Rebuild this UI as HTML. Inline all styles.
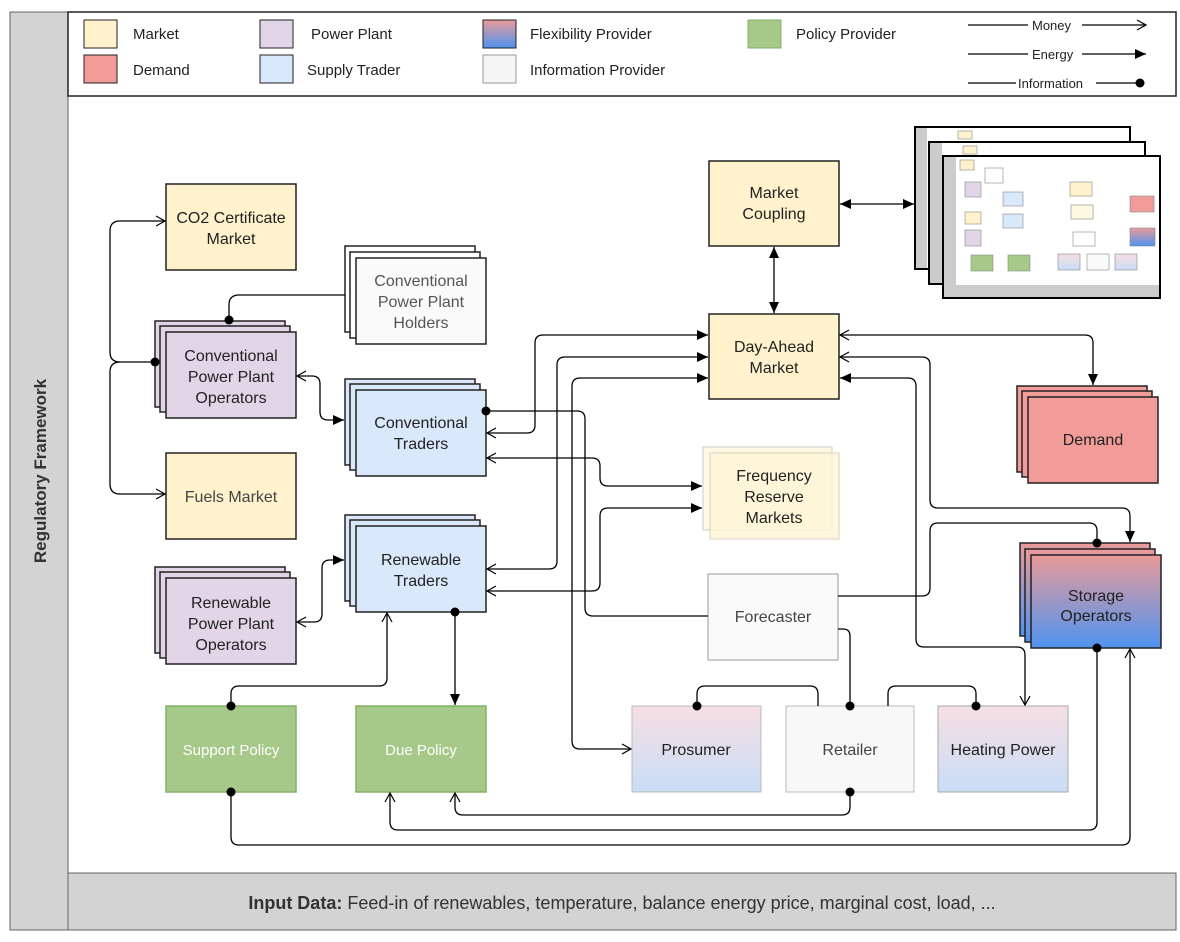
<!DOCTYPE html>
<html><head><meta charset="utf-8"><style>
body{margin:0;background:#fff}
svg{display:block;font-family:"Liberation Sans",sans-serif}
</style></head><body>
<svg width="1180" height="942" viewBox="0 0 1180 942" xmlns="http://www.w3.org/2000/svg">
<defs>
<marker id="o" markerWidth="12" markerHeight="12" refX="10" refY="6" orient="auto-start-reverse" markerUnits="userSpaceOnUse"><path d="M1,1 L10,6 L1,11" fill="none" stroke="#000" stroke-width="1.2"/></marker>
<marker id="f" markerWidth="12" markerHeight="12" refX="11" refY="6" orient="auto-start-reverse" markerUnits="userSpaceOnUse"><path d="M0,1 L11,6 L0,11 Z" fill="#000"/></marker>
<marker id="d" markerWidth="10" markerHeight="10" refX="5" refY="5" orient="auto" markerUnits="userSpaceOnUse"><circle cx="5" cy="5" r="4.5" fill="#000"/></marker>
<linearGradient id="flex" x1="0" y1="0" x2="0" y2="1"><stop offset="0" stop-color="#ea9a9a"/><stop offset="1" stop-color="#4f93f0"/></linearGradient>
<linearGradient id="soft" x1="0" y1="0" x2="0" y2="1"><stop offset="0" stop-color="#f6dfe3"/><stop offset="1" stop-color="#c9ddf7"/></linearGradient>
</defs>
<rect x="10" y="12" width="58" height="918" fill="#d3d3d3" stroke="#666"/>
<rect x="68" y="873" width="1108" height="57" fill="#d3d3d3" stroke="#666"/>
<rect x="68" y="12" width="1108" height="84" fill="#fff" stroke="#222" stroke-width="1.5"/>
<text transform="translate(46,471) rotate(-90)" text-anchor="middle" font-size="17" font-weight="bold" fill="#333">Regulatory Framework</text>
<text x="622" y="909" text-anchor="middle" font-size="18" fill="#333"><tspan font-weight="bold">Input Data:</tspan> Feed-in of renewables, temperature, balance energy price, marginal cost, load, ...</text>
<g font-size="15" fill="#222">
<rect x="84" y="20" width="33" height="28" fill="#fff2cc" stroke="#222"/><text x="133" y="39">Market</text>
<rect x="84" y="55" width="33" height="28" fill="#f19c99" stroke="#222"/><text x="133" y="75">Demand</text>
<rect x="260" y="20" width="33" height="28" fill="#e1d5e7" stroke="#222"/><text x="311" y="39">Power Plant</text>
<rect x="260" y="55" width="33" height="28" fill="#dae8fc" stroke="#222"/><text x="307" y="75">Supply Trader</text>
<rect x="483" y="20" width="33" height="28" fill="url(#flex)" stroke="#222"/><text x="530" y="39">Flexibility Provider</text>
<rect x="483" y="55" width="33" height="28" fill="#f5f5f5" stroke="#999"/><text x="530" y="75">Information Provider</text>
<rect x="748" y="20" width="33" height="28" fill="#a6c98a" stroke="#82b366"/><text x="796" y="39">Policy Provider</text>
</g>
<g font-size="13" fill="#222" stroke-width="1.2">
<line x1="968" y1="25" x2="1028" y2="25" stroke="#000"/><text x="1032" y="30">Money</text><line x1="1082" y1="25" x2="1146" y2="25" stroke="#000" marker-end="url(#o)"/>
<line x1="968" y1="54" x2="1028" y2="54" stroke="#000"/><text x="1032" y="59">Energy</text><line x1="1082" y1="54" x2="1146" y2="54" stroke="#000" marker-end="url(#f)"/>
<line x1="968" y1="83" x2="1016" y2="83" stroke="#000"/><text x="1018" y="88">Information</text><line x1="1096" y1="83" x2="1140" y2="83" stroke="#000" marker-end="url(#d)"/>
</g>
<g stroke="#000" stroke-width="2">
<rect x="915" y="127" width="215" height="142" fill="#fff"/><rect x="916" y="128" width="11" height="140" fill="#ccc" stroke="none"/>
<rect x="929" y="142" width="216" height="142" fill="#fff"/><rect x="930" y="143" width="12" height="140" fill="#ccc" stroke="none"/>
<rect x="943" y="156" width="217" height="142" fill="#fff"/><rect x="944" y="157" width="12" height="140" fill="#ccc" stroke="none"/>
<rect x="944" y="285" width="215" height="12" fill="#ccc" stroke="none"/>
</g>
<g stroke="#888" stroke-width="0.6">
<rect x="958" y="131" width="14" height="8" fill="#fff2cc"/><rect x="963" y="146" width="14" height="8" fill="#fff2cc"/>
<rect x="960" y="160" width="14" height="10" fill="#fff2cc"/><rect x="985" y="168" width="18" height="15" fill="#fff"/>
<rect x="965" y="182" width="16" height="15" fill="#e1d5e7"/><rect x="1003" y="192" width="20" height="14" fill="#dae8fc"/>
<rect x="965" y="212" width="16" height="12" fill="#fff2cc"/><rect x="1003" y="214" width="20" height="14" fill="#dae8fc"/>
<rect x="965" y="230" width="16" height="16" fill="#e1d5e7"/><rect x="1070" y="182" width="22" height="14" fill="#fff2cc"/>
<rect x="1071" y="205" width="22" height="14" fill="#fff8e0"/><rect x="1073" y="232" width="22" height="14" fill="#fff"/>
<rect x="1130" y="196" width="24" height="16" fill="#f19c99"/><rect x="1130" y="228" width="25" height="18" fill="url(#flex)"/>
<rect x="971" y="255" width="22" height="16" fill="#a6c98a"/><rect x="1008" y="255" width="22" height="16" fill="#a6c98a"/>
<rect x="1058" y="254" width="22" height="16" fill="url(#soft)"/><rect x="1087" y="254" width="22" height="16" fill="#fafafa"/><rect x="1115" y="254" width="22" height="16" fill="url(#soft)"/>
</g>
<g stroke="#222" stroke-width="1.5">
<rect x="166" y="184" width="130" height="86" fill="#fff2cc"/>
<rect x="345" y="246" width="130" height="86" fill="#fff"/><rect x="350" y="252" width="130" height="86" fill="#fff"/><rect x="356" y="258" width="130" height="86" fill="#fafafa"/>
<rect x="155" y="321" width="130" height="86" fill="#e1d5e7"/><rect x="160" y="326" width="130" height="86" fill="#e1d5e7"/><rect x="166" y="332" width="130" height="86" fill="#e1d5e7"/>
<rect x="345" y="379" width="130" height="86" fill="#dae8fc"/><rect x="350" y="384" width="130" height="86" fill="#dae8fc"/><rect x="356" y="390" width="130" height="86" fill="#dae8fc"/>
<rect x="166" y="453" width="130" height="86" fill="#fff2cc"/>
<rect x="345" y="515" width="130" height="86" fill="#dae8fc"/><rect x="350" y="520" width="130" height="86" fill="#dae8fc"/><rect x="356" y="526" width="130" height="86" fill="#dae8fc"/>
<rect x="155" y="567" width="130" height="86" fill="#e1d5e7"/><rect x="160" y="572" width="130" height="86" fill="#e1d5e7"/><rect x="166" y="578" width="130" height="86" fill="#e1d5e7"/>
<rect x="166" y="706" width="130" height="86" fill="#a6c98a" stroke="#82b366"/>
<rect x="356" y="706" width="130" height="86" fill="#a6c98a" stroke="#82b366"/>
<rect x="709" y="161" width="130" height="85" fill="#fff2cc"/>
<rect x="709" y="314" width="130" height="85" fill="#fff2cc"/>
<rect x="703" y="447" width="129" height="83" fill="#fff8e3" stroke="#ccc" stroke-width="1"/><rect x="710" y="453" width="129" height="86" fill="#fff5d6" fill-opacity="0.8" stroke="#d8d2bc" stroke-width="1"/>
<rect x="1017" y="386" width="130" height="86" fill="#f19c99"/><rect x="1022" y="391" width="130" height="86" fill="#f19c99"/><rect x="1028" y="397" width="130" height="86" fill="#f19c99"/>
<rect x="708" y="574" width="130" height="86" fill="#fafafa" stroke="#999" stroke-width="1"/>
<rect x="1020" y="543" width="130" height="93" fill="url(#flex)"/><rect x="1025" y="549" width="130" height="93" fill="url(#flex)"/><rect x="1031" y="555" width="130" height="93" fill="url(#flex)"/>
<rect x="632" y="706" width="129" height="86" fill="url(#soft)" stroke="#bbb" stroke-width="1"/>
<rect x="786" y="706" width="128" height="86" fill="#f8f8f8" stroke="#bbb" stroke-width="1"/>
<rect x="938" y="706" width="130" height="86" fill="url(#soft)" stroke="#aaa" stroke-width="1"/>
</g>
<g font-size="16" fill="#222" text-anchor="middle">
<text x="231" y="223">CO2 Certificate</text><text x="231" y="244">Market</text>
<g fill="#555"><text x="421" y="286">Conventional</text><text x="421" y="307">Power Plant</text><text x="421" y="328">Holders</text></g>
<text x="231" y="361">Conventional</text><text x="231" y="382">Power Plant</text><text x="231" y="403">Operators</text>
<text x="421" y="428">Conventional</text><text x="421" y="449">Traders</text>
<text x="231" y="502" fill="#444">Fuels Market</text>
<text x="421" y="565">Renewable</text><text x="421" y="586">Traders</text>
<text x="231" y="608">Renewable</text><text x="231" y="629">Power Plant</text><text x="231" y="650">Operators</text>
<text x="231" y="755" fill="#fff" font-size="15">Support Policy</text>
<text x="421" y="755" fill="#fff" font-size="15">Due Policy</text>
<text x="774" y="198">Market</text><text x="774" y="219">Coupling</text>
<text x="774" y="352">Day-Ahead</text><text x="774" y="373">Market</text>
<text x="774" y="481">Frequency</text><text x="774" y="502">Reserve</text><text x="774" y="523">Markets</text>
<text x="1093" y="445">Demand</text>
<text x="773" y="622" fill="#444">Forecaster</text>
<text x="1096" y="601">Storage</text><text x="1096" y="621">Operators</text>
<text x="696" y="755">Prosumer</text>
<text x="850" y="755" fill="#444">Retailer</text>
<text x="1003" y="755">Heating Power</text>
</g>
<g fill="none" stroke="#000" stroke-width="1.3">
<path d="M155,362 H120 Q110,362 110,352 V231 Q110,221 120,221 H165" marker-start="url(#d)" marker-end="url(#o)"/>
<path d="M120,362 Q110,362 110,372 V484 Q110,494 120,494 H165" marker-end="url(#o)"/>
<path d="M345,295 H239 Q229,295 229,305 V320" marker-end="url(#d)"/>
<path d="M297,376 H312 Q320,376 320,384 V412 Q320,420 328,420 H344" marker-start="url(#o)" marker-end="url(#f)"/>
<path d="M297,622 H314 Q322,622 322,614 V568 Q322,560 330,560 H344" marker-start="url(#o)" marker-end="url(#f)"/>
<path d="M486,411 H577 Q585,411 585,419 V608 Q585,616 593,616 H708" marker-start="url(#d)"/>
<path d="M487,433 H527 Q535,433 535,425 V343 Q535,335 543,335 H708" marker-start="url(#o)" marker-end="url(#f)"/>
<path d="M487,458 H592 Q600,458 600,466 V478 Q600,486 608,486 H702" marker-start="url(#o)" marker-end="url(#f)"/>
<path d="M487,569 H549 Q557,569 557,561 V365 Q557,357 565,357 H708" marker-start="url(#o)" marker-end="url(#f)"/>
<path d="M487,591 H592 Q600,591 600,583 V516 Q600,508 608,508 H702" marker-start="url(#o)" marker-end="url(#f)"/>
<path d="M708,378 H580 Q572,378 572,386 V741 Q572,749 580,749 H631" marker-start="url(#f)" marker-end="url(#o)"/>
<path d="M774,247 V313" marker-start="url(#f)" marker-end="url(#f)"/>
<path d="M840,204 H914" marker-start="url(#f)" marker-end="url(#f)"/>
<path d="M840,335 H1085 Q1093,335 1093,343 V385" marker-start="url(#o)" marker-end="url(#f)"/>
<path d="M840,357 H922 Q930,357 930,365 V500 Q930,508 938,508 H1122 Q1130,508 1130,516 V542" marker-start="url(#o)" marker-end="url(#f)"/>
<path d="M840,378 H908 Q916,378 916,386 V639 Q916,647 924,647 H1017 Q1025,647 1025,655 V705" marker-start="url(#f)" marker-end="url(#o)"/>
<path d="M838,596 H922 Q930,596 930,588 V531 Q930,523 938,523 H1089 Q1097,523 1097,531 V543" marker-end="url(#d)"/>
<path d="M838,629 H843 Q850,629 850,636 V706" marker-end="url(#d)"/>
<path d="M818,706 V694 Q818,686 810,686 H705 Q697,686 697,694 V706" marker-end="url(#d)"/>
<path d="M888,706 V694 Q888,686 896,686 H968 Q976,686 976,694 V706" marker-end="url(#d)"/>
<path d="M850,792 V807 Q850,815 842,815 H463 Q455,815 455,807 V793" marker-start="url(#d)" marker-end="url(#o)"/>
<path d="M1097,648 V822 Q1097,830 1089,830 H398 Q390,830 390,822 V793" marker-start="url(#d)" marker-end="url(#o)"/>
<path d="M231,792 V837 Q231,845 239,845 H1122 Q1130,845 1130,837 V649" marker-start="url(#d)" marker-end="url(#o)"/>
<path d="M231,706 V694 Q231,686 239,686 H379 Q387,686 387,678 V613" marker-start="url(#d)" marker-end="url(#o)"/>
<path d="M455,612 V705" marker-start="url(#d)" marker-end="url(#f)"/>
</g>
</svg>
</body></html>
